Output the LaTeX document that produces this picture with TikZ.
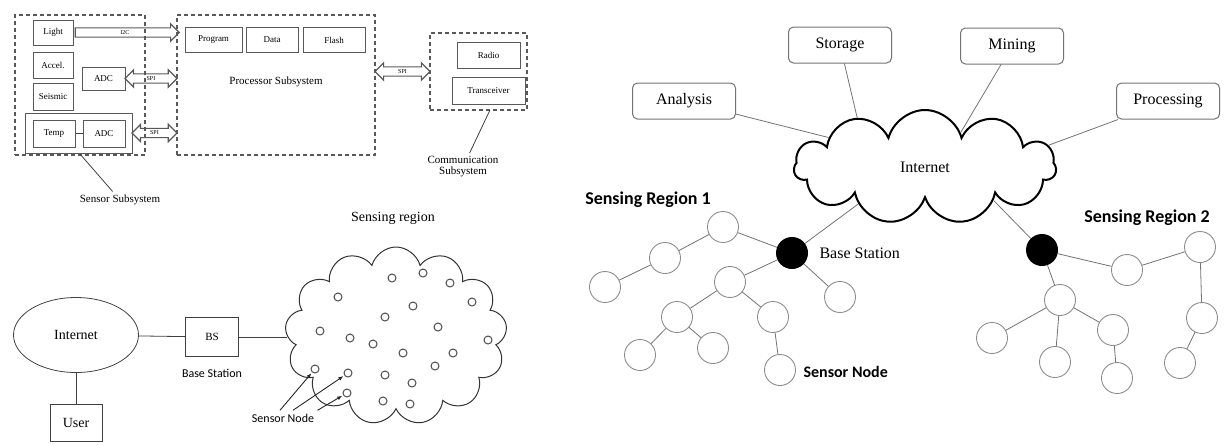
\documentclass[tikz,border=0pt]{standalone}
\usepackage{fontspec}
\setmainfont{Liberation Serif}
\newfontfamily\calib{Carlito}
\usetikzlibrary{shapes.symbols,shapes.geometric,shapes.arrows,arrows.meta,calc}
\newcommand\txtsize[1]{\fontsize{#1}{#1}\selectfont}

\begin{document}
\begin{tikzpicture}[x=1pt,y=-1pt,
  part/.style={draw=black!65,line width=1pt,inner sep=0pt,font=\txtsize{9}},
  subsys/.style={draw=black!65,dash pattern=on 4pt off 3pt,line width=1.3pt,inner sep=0pt},
  bus/.style={double arrow,draw=black!65,line width=1.2pt,inner sep=2pt,
    double arrow head extend=4pt,font=\txtsize{6}},
  onebus/.style={single arrow,draw=black!65,line width=1.2pt,inner sep=2pt,
    single arrow head extend=4pt,font=\txtsize{6}},
  plain/.style={draw=black!75,line width=0.8pt},
  mote/.style={circle,draw=black!70,line width=1pt,minimum size=8,inner sep=0pt},
  pointer/.style={draw=black!85,line width=0.9pt,-{Latex[length=5pt,width=4pt]},shorten >=1pt},
  sn/.style={circle,draw=black!45,line width=0.9pt,minimum size=31,inner sep=0pt},
  bsn/.style={circle,fill=black,minimum size=32,inner sep=0pt},
  svc/.style={draw=black!55,line width=1pt,rounded corners=5pt,minimum width=103,minimum height=36,inner sep=0pt,font=\txtsize{16}},
  link/.style={draw=black!55,line width=0.8pt}]
  \useasboundingbox (0,0) rectangle (1225,445);

  \node[subsys,minimum width=130,minimum height=140] (sensub) at (80,85) {};
  \node[subsys,minimum width=198,minimum height=140] (proc) at (276,85) {};
  \node[subsys,minimum width=97,minimum height=77] (comm) at (478.5,71.5) {};
  \node[part,minimum width=40,minimum height=25] (light) at (53,32.5) {Light};
  \node[part,minimum width=40,minimum height=26] (accel) at (53,65) {Accel.};
  \node[part,minimum width=40,minimum height=27] (seis) at (53,96.5) {Seismic};
  \node[part,minimum width=107,minimum height=40] (tgrp) at (78.5,133) {};
  \node[part,minimum width=42,minimum height=27] (temp) at (54,133.5) {Temp};
  \node[part,minimum width=42,minimum height=27] (adcb) at (104,133.5) {ADC};
  \node[part,minimum width=43,minimum height=23] (adca) at (103.5,78.5) {ADC};
  \node[part,minimum width=57,minimum height=25] (prog) at (213.5,40) {Program};
  \node[part,minimum width=52,minimum height=25] (data) at (272,40) {Data};
  \node[part,minimum width=62,minimum height=25] (flash) at (334,40) {Flash};
  \node[part,minimum width=63,minimum height=26] (radio) at (488.5,55) {Radio};
  \node[part,minimum width=73,minimum height=27] (trx) at (488.5,90.5) {Transceiver};
  \node[font=\txtsize{11}] (proclab) at (276,82) {Processor Subsystem};
  \node[font=\txtsize{11}] (senslab) at (120,200) {Sensor Subsystem};
  \node[font=\txtsize{11},align=center] (commlab) at (463,167) {Communication\\Subsystem};
  \coordinate (sensptr) at (80,154);
  \coordinate (commptr) at (490,110);

  \draw[plain] (temp) -- (adcb);
  \draw[plain] (sensptr) -- (senslab);
  \draw[plain] (commptr) -- (commlab);
  \node[onebus,minimum height=104] (bus1) at ($(light.east)!0.5!(light.east -| proc.west)$) {I2C};
  \node[bus,minimum height=52] (bus2) at ($(adca.east)!0.5!(adca.east -| proc.west)$) {SPI};
  \node[bus,minimum height=45] (bus3) at ($(tgrp.east)!0.5!(tgrp.east -| proc.west)$) {SPI};
  \node[bus,minimum height=55] (bus4) at ($(proc.east |- comm)!0.5!(comm.west)$) {SPI};

  \node[draw,plain,ellipse,minimum width=125,minimum height=75,font=\txtsize{14}] (inet) at (76,335) {Internet};
  \node[draw,plain,minimum width=53,minimum height=39,font=\txtsize{11}] (bs) at (212,337) {BS};
  \node[draw,plain,minimum width=52,minimum height=37,font=\txtsize{14}] (user) at (76,423) {User};
  \node[font=\calib\txtsize{12}] (bslab) at (212,373) {Base Station};
  \node[cloud,cloud puffs=13,cloud ignores aspect,draw=black!80,line width=1pt,
        minimum width=222,minimum height=178,inner sep=0pt] (region) at (396,336) {};
  \node[font=\txtsize{14}] (reglab) at (393,218) {Sensing region};
  \draw[plain] (inet) -- (bs);
  \draw[plain] (inet) -- (user);
  \draw[plain] (bs) -- (region.west |- bs);
  \foreach \x/\y [count=\i] in {338/297,392/278,423/273,450/283,472/302,413/306,
      385/317,438/327,320/331,350/338,373/344,403/353,453/353,488/340,435/366,
      315/369,348/373,385/375,412/383,347/393,383/401,410/404}
    \node[mote] (m\i) at (\x,\y) {};
  \node[font=\calib\txtsize{12}] (snlab) at (283,418) {Sensor Node};
  \draw[pointer] ([xshift=-3pt]snlab.north) -- (m16);
  \draw[pointer] ([xshift=10pt]snlab.north) -- (m17);
  \draw[pointer] (snlab.north east) -- (m20);

  \node[cloud,cloud puffs=11,cloud ignores aspect,draw,line width=2pt,
        minimum width=262,minimum height=114,font=\txtsize{16}] (icloud) at (925,167) {Internet};
  \node[svc] (ana) at (684,101) {Analysis};
  \node[svc] (sto) at (840,45) {Storage};
  \node[svc] (mine) at (1012,46) {Mining};
  \node[svc] (pro) at (1168,101) {Processing};
  \draw[link] (ana) -- (icloud.163);
  \draw[link] (sto) -- (icloud.144);
  \draw[link] (mine) -- (icloud.44);
  \draw[link] (pro) -- (icloud.10);

  \node[font=\calib\bfseries\txtsize{18}] (reg1) at (648,200) {Sensing Region 1};
  \node[font=\calib\bfseries\txtsize{18}] (reg2) at (1147,218) {Sensing Region 2};
  \node[bsn] (bsa) at (792,253) {};
  \node[bsn] (bsb) at (1042,250) {};
  \node[font=\txtsize{16},anchor=west] (bsalab) at (816,253) {Base Station};
  \foreach \n/\x/\y in {a/723/227,b/665/258,c/605/287,d/730/282,e/677/317,f/640/355,
      g/713/348,h/773/317,i/780/370,j/840/297,k/1127/270,l/1200/247,m/1202/318,
      n/1180/363,o/1060/300,p/992/338,q/1055/362,r/1113/330,s/1117/378}
    \node[sn] (\n) at (\x,\y) {};
  \node[font=\calib\bfseries\txtsize{16},anchor=west] (snlabb) at (800,372) {Sensor Node};
  \draw[link] (bsa) -- (icloud.209);
  \draw[link] (bsb) -- (icloud.-26);
  \foreach \a/\b in {bsa/a,a/b,b/c,bsa/d,d/e,e/f,e/g,d/h,h/i,bsa/j,
      bsb/k,k/l,l/m,m/n,bsb/o,o/p,o/q,o/r,r/s}
    \draw[link] (\a) -- (\b);
\end{tikzpicture}
\end{document}
